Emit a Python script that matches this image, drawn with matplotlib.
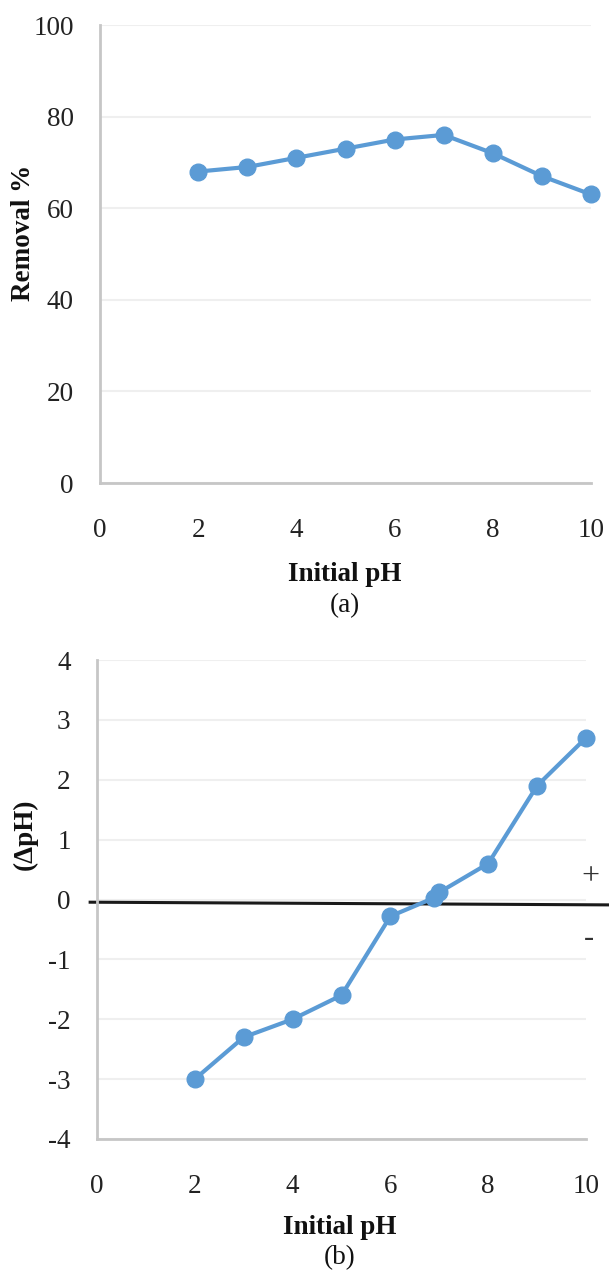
import matplotlib.pyplot as plt

### Data ###

ph_a = [2, 3, 4, 5, 6, 7, 8, 9, 10]
removal = [68, 69, 71, 73, 75, 76, 72, 67, 63]

ph_b = [2, 3, 4, 5, 6, 6.9, 7, 8, 9, 10]
delta_ph = [-3.0, -2.3, -2.0, -1.6, -0.28, 0.03, 0.12, 0.6, 1.9, 2.7]

x_ticks = [0, 2, 4, 6, 8, 10]
y_ticks_a = [0, 20, 40, 60, 80, 100]
y_ticks_b = [-4, -3, -2, -1, 0, 1, 2, 3, 4]

# hand drawn zero line in panel (b)
zero_x = [-0.14, 10.47]
zero_y = [-0.045, -0.09]

### Style ###

W, H = 609, 1275
blue = '#5B9BD5'
grid_c = '#EFEFEF'
spine_c = '#C6C6C6'
plt.rcParams['font.family'] = ['Liberation Serif', 'DejaVu Serif']
plt.rcParams['axes.unicode_minus'] = False

fig = plt.figure(figsize=(W / 100, H / 100), dpi=100)


def px_axes(left, top, right, bottom):
    # pixel box -> figure fraction
    return fig.add_axes([left / W, 1 - bottom / H, (right - left) / W, (bottom - top) / H])


def style_axes(ax, yticks):
    ax.set_xlim(0, 10)
    ax.set_ylim(yticks[0], yticks[-1])
    ax.set_xticks(x_ticks)
    ax.set_yticks(yticks)
    ax.grid(axis='y', color=grid_c, linewidth=1.5)
    ax.set_axisbelow(True)
    for s in ['top', 'right']:
        ax.spines[s].set_visible(False)
    for s in ['left', 'bottom']:
        ax.spines[s].set_color(spine_c)
        ax.spines[s].set_linewidth(2.0)
    ax.tick_params(axis='x', length=0, pad=25, labelsize=19.5, colors='#222222')
    ax.tick_params(axis='y', length=0, pad=19, labelsize=19.5, colors='#222222')


def fig_text(x, y, s, **kw):
    kw.setdefault('color', '#111111')
    fig.text(x / W, 1 - y / H, s, ha='center', va='center', **kw)


# (a) removal vs initial pH
ax1 = px_axes(100, 25, 591, 483)
style_axes(ax1, y_ticks_a)
ax1.plot(ph_a, removal, color=blue, linewidth=3, marker='o', markersize=12,
         clip_on=False, zorder=3)
fig_text(345, 575, 'Initial pH', fontsize=19.5, fontweight='bold')
fig_text(345, 606, '(a)', fontsize=19.5)
fig_text(24, 233, 'Removal %', fontsize=19.5, fontweight='bold', rotation=90)

# (b) delta pH vs initial pH
ax2 = px_axes(97, 660, 586, 1139)
style_axes(ax2, y_ticks_b)
ax2.plot(zero_x, zero_y, color='#1A1A1A', linewidth=2.2, clip_on=False, zorder=2)
ax2.plot(ph_b, delta_ph, color=blue, linewidth=3, marker='o', markersize=12,
         clip_on=False, zorder=3)
fig_text(340, 1227, 'Initial pH', fontsize=19.5, fontweight='bold')
fig_text(340, 1258, '(b)', fontsize=19.5)
fig_text(25, 834, '(ΔpH)', fontsize=19.5, fontweight='bold', rotation=90)
fig_text(590, 877, '+', fontsize=23, color='#333333')
fig_text(589, 938, '-', fontsize=22, color='#333333')

plt.savefig('out.png', dpi=100)
